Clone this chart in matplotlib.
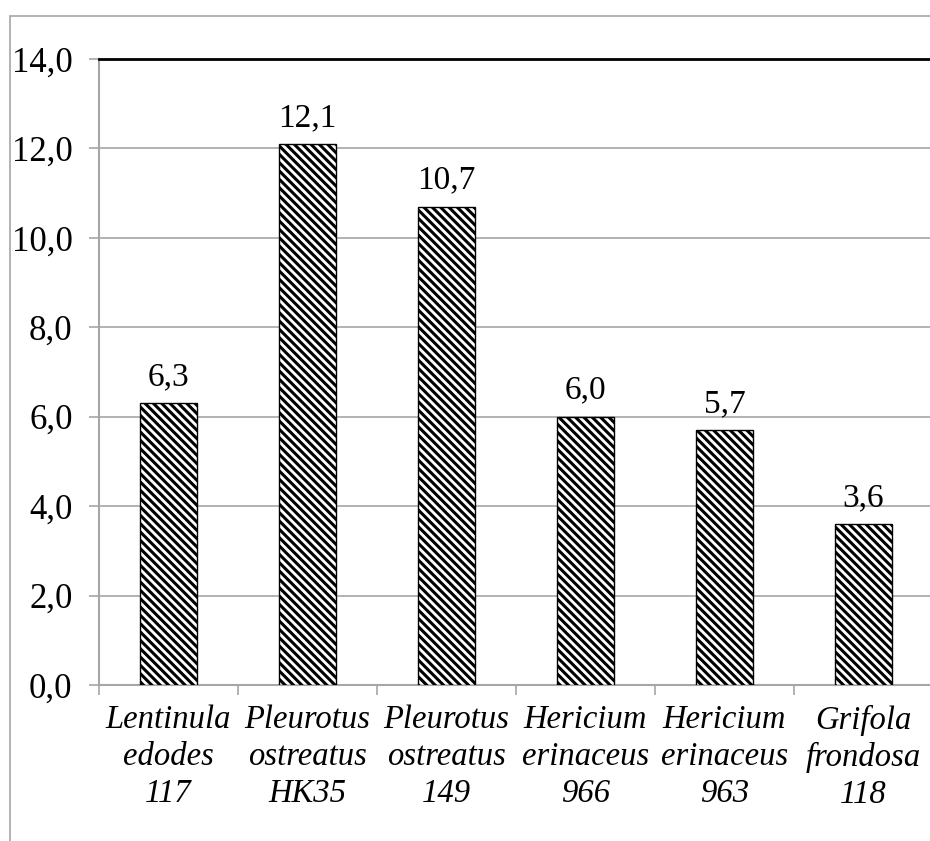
import numpy as np
import matplotlib.pyplot as plt
from matplotlib.patches import Rectangle

categories = ['Lentinula\nedodes\n117', 'Pleurotus\nostreatus\nHK35', 'Pleurotus\nostreatus\n149',
              'Hericium\nerinaceus\n966', 'Hericium\nerinaceus\n963', 'Grifola\nfrondosa\n118']
values = [6.3, 12.1, 10.7, 6.0, 5.7, 3.6]
value_labels = ['6,3', '12,1', '10,7', '6,0', '5,7', '3,6']
y_ticks = [0, 2, 4, 6, 8, 10, 12, 14]
y_tick_labels = ['0,0', '2,0', '4,0', '6,0', '8,0', '10,0', '12,0', '14,0']

plt.rcParams['font.family'] = ['Liberation Serif', 'DejaVu Serif']
plt.rcParams['hatch.linewidth'] = 2.2

W, H = 930, 841
fig = plt.figure(figsize=(W / 100, H / 100), dpi=100)

# outer frame of the chart area
fig.patches.append(Rectangle((10 / W, -0.05), 1.2, 1 - 16 / H + 0.05, transform=fig.transFigure,
                             fill=False, edgecolor='#a6a6a6', linewidth=1.2))

ax = fig.add_axes([99 / W, (H - 685) / H, 834 / W, 626 / H])
x = np.arange(len(values))
ax.bar(x, values, width=0.41, color='white', edgecolor='black', linewidth=1.0,
       hatch='\\\\\\\\', zorder=3)

for xi, v, lab in zip(x, values, value_labels):
    ax.annotate(lab, (xi, v), xytext=(0, 8), textcoords='offset points',
                ha='center', va='bottom', fontsize=24)

ax.set_xlim(-0.5, len(values) - 0.5)
ax.set_ylim(0, 14)
ax.set_yticks(y_ticks)
ax.set_yticklabels(y_tick_labels, fontsize=25)
ax.set_xticks(x)
ax.set_xticklabels(categories, fontsize=23.5, style='italic', linespacing=1.27)
ax.set_xticks(np.arange(-0.5, len(values)), minor=True)
ax.tick_params(axis='x', which='major', length=0, pad=14)
ax.tick_params(axis='x', which='minor', length=7, color='#a6a6a6', width=1.2)
ax.tick_params(axis='y', length=7, color='#a6a6a6', width=1.2, pad=12)

ax.grid(axis='y', color='#a6a6a6', linewidth=1.2, zorder=0)
ax.set_axisbelow(True)
for side in ['left', 'bottom']:
    ax.spines[side].set_color('#a6a6a6')
    ax.spines[side].set_linewidth(1.5)
ax.spines['right'].set_visible(False)
ax.spines['top'].set_color('black')
ax.spines['top'].set_linewidth(2)

fig.savefig('out.png', dpi=100)
